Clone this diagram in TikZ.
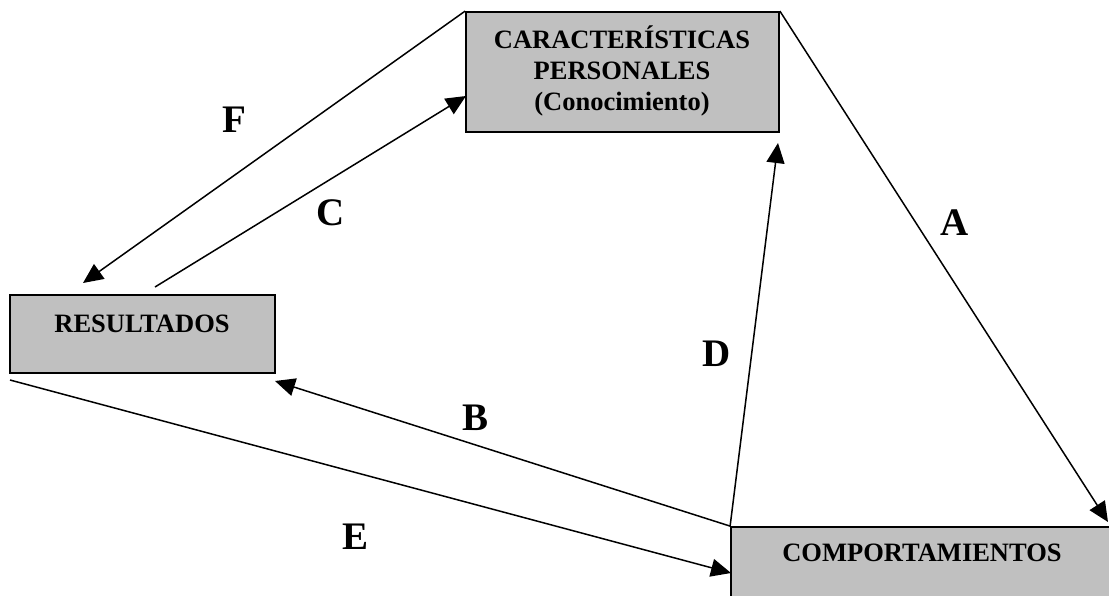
\documentclass[tikz,border=0pt]{standalone}
\usepackage{fontspec}
\setmainfont{Liberation Serif}
\usetikzlibrary{arrows.meta}
\definecolor{boxgray}{RGB}{192,192,192}
\begin{document}
\begin{tikzpicture}[x=1pt,y=-1pt,
  box/.style={draw=black, fill=boxgray, line width=1.8pt, inner sep=0pt},
  boxtext/.style={font=\fontsize{26.5}{31}\selectfont\bfseries, align=center, inner sep=0pt},
  letter/.style={font=\fontsize{39}{42}\selectfont\bfseries, inner sep=0pt},
  link/.style={line width=1.5pt, -{Triangle[length=20pt,width=18pt]}}]
\clip (0,0) rectangle (1109,595);
% boxes
\node[box, minimum width=313pt, minimum height=120pt] (car) at (622.5,72) {};
\node[box, minimum width=265pt, minimum height=78pt] (res) at (142.5,334) {};
\node[box, minimum width=384pt, minimum height=78pt] (com) at (923,566) {};
% box texts
\node[boxtext] (cartxt) at (622,71) {CARACTERÍSTICAS\\PERSONALES\\(Conocimiento)};
\node[boxtext] (restxt) at (142,324) {RESULTADOS};
\node[boxtext] (comtxt) at (922,553) {COMPORTAMIENTOS};
% free ends of the connectors
\coordinate (fend) at (83,283);
\coordinate (cstart) at (155,287);
\coordinate (cend) at (466,96);
\coordinate (aend) at (1108,522);
\coordinate (dend) at (778,143);
\coordinate (bend) at (275,381);
\coordinate (estart) at (10,380);
\coordinate (eend) at (731,573);
% connectors
\draw[link] (car.north west) -- (fend);
\draw[link] (cstart) -- (cend);
\draw[link] (car.north east) -- (aend);
\draw[link] (com.north west) -- (dend);
\draw[link] (com.north west) -- (bend);
\draw[link] (estart) -- (eend);
% connector labels
\node[letter] (lf) at (234,120) {F};
\node[letter] (lc) at (331,213) {C};
\node[letter] (la) at (955,223) {A};
\node[letter] (ld) at (717,354) {D};
\node[letter] (lb) at (476,418) {B};
\node[letter] (le) at (356,537) {E};
\end{tikzpicture}
\end{document}
